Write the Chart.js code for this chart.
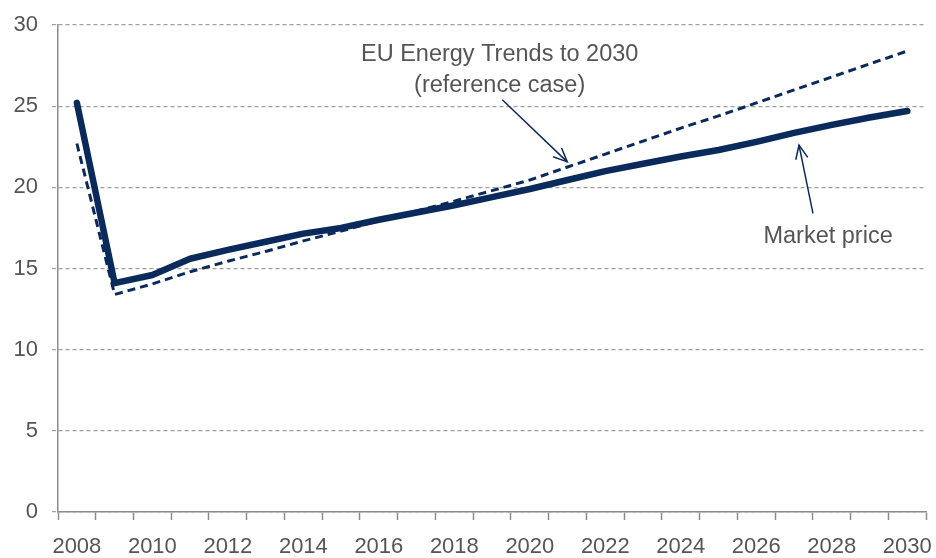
<!DOCTYPE html>
<html>
<head>
<meta charset="utf-8">
<script src="https://cdn.jsdelivr.net/npm/chart.js@4/dist/chart.umd.min.js"></script>
<style>
html,body{margin:0;padding:0;background:#fff;}
#wrap{width:936px;height:558px;position:relative;}
</style>
</head>
<body>
<div id="wrap"><canvas id="c" width="936" height="558"></canvas></div>
<script>
const years = ['2008','2009','2010','2011','2012','2013','2014','2015','2016','2017','2018','2019','2020','2021','2022','2023','2024','2025','2026','2027','2028','2029','2030'];
const marketPrice = [25.2,14.1,14.6,15.6,16.15,16.65,17.15,17.5,18.0,18.45,18.9,19.4,19.9,20.45,21.0,21.45,21.9,22.3,22.8,23.35,23.85,24.3,24.7];
const euTrends = [22.7,13.4,14.05,14.8,15.45,16.05,16.7,17.3,17.95,18.55,19.15,19.8,20.45,21.25,22.05,22.85,23.65,24.4,25.2,26.0,26.8,27.6,28.4];
const yTicks = [0,5,10,15,20,25,30];
const labelEU = ['EU Energy Trends to 2030','(reference case)'];
const labelMarket = 'Market price';

const NAVY = '#0a2a5c';
const TXT = '#555555';
const FONT = 'Liberation Sans, Arial, sans-serif';

function arrow(ctx, x1, y1, x2, y2) {
  ctx.save();
  ctx.strokeStyle = NAVY;
  ctx.lineWidth = 1.5;
  ctx.beginPath();
  ctx.moveTo(x1, y1); ctx.lineTo(x2, y2); ctx.stroke();
  const a = Math.atan2(y2 - y1, x2 - x1);
  const L = 15, w = 0.42;
  ctx.beginPath();
  ctx.moveTo(x2 - L * Math.cos(a - w), y2 - L * Math.sin(a - w));
  ctx.lineTo(x2, y2);
  ctx.lineTo(x2 - L * Math.cos(a + w), y2 - L * Math.sin(a + w));
  ctx.stroke();
  ctx.restore();
}

const annotations = {
  id: 'annotations',
  afterDatasetsDraw(chart) {
    const {ctx, scales: {x, y}} = chart;
    ctx.save();
    ctx.fillStyle = TXT;
    ctx.font = '23.5px ' + FONT;
    ctx.textAlign = 'center';
    ctx.textBaseline = 'middle';
    ctx.fillText(labelEU[0], x.getPixelForValue(11.2), y.getPixelForValue(28.2));
    ctx.fillText(labelEU[1], x.getPixelForValue(11.2), y.getPixelForValue(26.3));
    ctx.fillText(labelMarket, x.getPixelForValue(19.9), y.getPixelForValue(16.95));
    arrow(ctx, x.getPixelForValue(11.27), y.getPixelForValue(25.4), x.getPixelForValue(12.99), y.getPixelForValue(21.57));
    arrow(ctx, x.getPixelForValue(19.5), y.getPixelForValue(18.4), x.getPixelForValue(19.13), y.getPixelForValue(22.6));
    ctx.restore();
  }
};

new Chart(document.getElementById('c'), {
  type: 'line',
  data: {
    labels: years,
    datasets: [
      {
        label: 'EU Energy Trends to 2030 (reference case)',
        data: euTrends,
        borderColor: NAVY,
        borderWidth: 3,
        borderDash: [8, 5],
        pointRadius: 0,
        tension: 0,
        fill: false,
        order: 0
      },
      {
        label: 'Market price',
        data: marketPrice,
        borderColor: NAVY,
        borderWidth: 6.5,
        borderCapStyle: 'round',
        borderJoinStyle: 'round',
        pointRadius: 0,
        tension: 0,
        fill: false,
        order: 1
      }
    ]
  },
  options: {
    responsive: false,
    animation: false,
    events: [],
    layout: {padding: {top: 25, right: 9, left: 0, bottom: 0}},
    plugins: {legend: {display: false}, tooltip: {enabled: false}},
    scales: {
      x: {
        type: 'category',
        offset: true,
        grid: {
          offset: true,
          drawOnChartArea: false,
          drawTicks: true,
          tickLength: 8,
          tickColor: '#8c8c8c',
          tickWidth: 1.5
        },
        border: {display: true, color: '#8c8c8c', width: 1.5},
        ticks: {
          autoSkip: false,
          maxRotation: 0,
          color: TXT,
          font: {family: FONT, size: 22, lineHeight: 2.05},
          padding: 4,
          callback: function(v, i) { return i % 2 === 0 ? years[i] : ''; }
        },
        afterFit(scale) { scale.height = 46; }
      },
      y: {
        min: 0,
        max: 30,
        afterBuildTicks(scale) { scale.ticks = yTicks.map(v => ({value: v})); },
        grid: {
          color: '#a0a0a0',
          lineWidth: 1.2,
          tickLength: 6,
          tickColor: '#a0a0a0',
          tickBorderDash: [4, 3],
          drawTicks: true
        },
        border: {display: true, color: '#8c8c8c', width: 1.5, dash: [4, 3]},
        ticks: {
          color: TXT,
          font: {family: FONT, size: 22, lineHeight: 1.0},
          padding: 14
        },
        afterFit(scale) { scale.width = 58; }
      }
    }
  },
  plugins: [annotations]
});
</script>
</body>
</html>
